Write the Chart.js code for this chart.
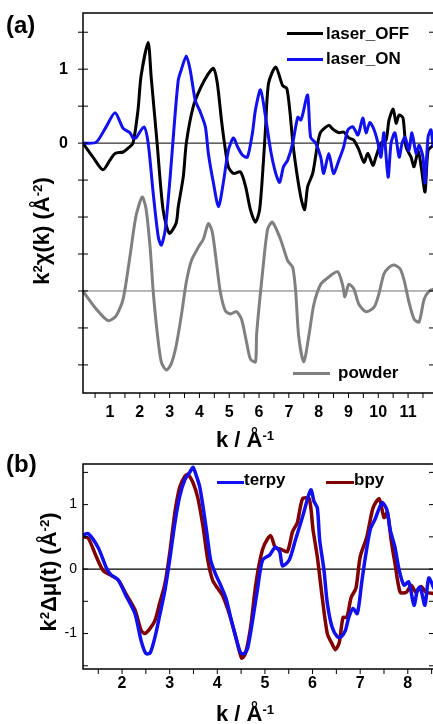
<!DOCTYPE html>
<html>
<head>
<meta charset="utf-8">
<script src="https://cdn.jsdelivr.net/npm/chart.js@4.4.1/dist/chart.umd.min.js"></script>
<style>
  html, body { margin:0; padding:0; background:#fff; }
  body { width:433px; height:724px; overflow:hidden; position:relative;
         font-family:"Liberation Sans", Arial, sans-serif; font-weight:bold; color:#000; }
  canvas { position:absolute; left:0; }
  #chartA { top:0; }
  #chartB { top:450px; }
  .txt { position:absolute; white-space:nowrap; line-height:1; }
  .sw { position:absolute; height:3px; }
  .ytitle { position:absolute; white-space:nowrap; font-size:22px; line-height:1;
            transform:translate(-50%,-50%) rotate(-90deg); }
  sup { font-size:0.6em; line-height:0; vertical-align:0.55em; }
</style>
</head>
<body>
<canvas id="chartA" width="440" height="450"></canvas>
<canvas id="chartB" width="440" height="274"></canvas>

<div class="txt" style="left:6px;top:13px;font-size:24px">(a)</div>
<div class="txt" style="left:6px;top:452px;font-size:24px">(b)</div>

<div class="sw" style="left:287px;top:32px;width:36px;background:#000"></div>
<div class="txt" style="left:326px;top:25px;font-size:17px">laser_OFF</div>
<div class="sw" style="left:287px;top:58px;width:36px;background:#1010f0"></div>
<div class="txt" style="left:326px;top:50px;font-size:17px">laser_ON</div>
<div class="sw" style="left:293px;top:372px;width:37px;background:#808080"></div>
<div class="txt" style="left:338px;top:364px;font-size:17px">powder</div>

<div class="sw" style="left:217px;top:481px;width:27px;background:#1010f0"></div>
<div class="txt" style="left:244px;top:471px;font-size:17px">terpy</div>
<div class="sw" style="left:326px;top:481px;width:28px;background:#800000"></div>
<div class="txt" style="left:354px;top:471px;font-size:17px">bpy</div>

<div class="txt" style="left:216px;top:429px;font-size:22px">k / Å<sup>-1</sup></div>
<div class="txt" style="left:216px;top:703px;font-size:22px">k / Å<sup>-1</sup></div>
<div class="ytitle" style="left:42px;top:231px">k<sup>2</sup>χ(k) (Å<sup>-2</sup>)</div>
<div class="ytitle" style="left:49px;top:572px">k<sup>2</sup>Δμ(t) (Å<sup>-2</sup>)</div>

<script>
const $ = (id) => document.getElementById(id);

// ---- panel (a): k^2 chi(k) ----
const offK = [0.09,0.43,0.76,1.0,1.17,1.44,1.6,1.77,1.94,2.04,2.28,2.38,2.48,2.58,2.78,2.99,3.22,3.29,3.46,3.56,3.79,4.03,4.27,4.47,4.6,4.74,4.84,4.97,5.14,5.38,5.55,5.71,5.88,6.02,6.15,6.22,6.32,6.56,6.79,6.93,7.03,7.16,7.4,7.53,7.63,7.8,7.97,8.07,8.34,8.5,8.68,8.84,9.01,9.18,9.35,9.52,9.65,9.82,9.92,10.09,10.26,10.36,10.5,10.6,10.7,10.83,10.93,11.1,11.2,11.34,11.44,11.57,11.67,11.84,11.9];
const offVal = [0,-0.19,-0.36,-0.23,-0.14,-0.12,-0.07,0,0.45,0.9,1.36,0.9,0.45,0,-0.9,-1.22,-1.08,-0.86,-0.45,0,0.49,0.74,0.92,1.01,0.81,0.31,0,-0.32,-0.41,-0.39,-0.59,-0.9,-1.07,-0.9,-0.23,0.22,0.81,1.03,0.78,0.74,0.45,-0.09,-0.73,-0.9,-0.59,-0.41,0,0.15,0.24,0.18,0.14,0.15,0.07,0.04,-0.09,-0.26,-0.14,-0.3,-0.19,0,0.04,0.31,0.46,0.27,0.38,0.34,-0.05,-0.19,-0.32,-0.1,-0.32,-0.66,-0.1,-0.03,0];

const onK = [0.09,0.53,0.87,1.17,1.44,1.67,1.77,1.87,2.14,2.28,2.45,2.62,2.72,2.85,3.02,3.15,3.29,3.39,3.56,3.69,3.86,4.03,4.2,4.3,4.47,4.64,4.8,4.97,5.14,5.28,5.44,5.61,5.78,5.88,6.05,6.22,6.39,6.56,6.69,6.82,6.96,7.13,7.3,7.4,7.46,7.63,7.73,7.9,8.07,8.17,8.34,8.5,8.68,8.84,8.98,9.15,9.32,9.48,9.59,9.72,9.86,9.99,10.09,10.19,10.33,10.43,10.56,10.7,10.8,10.9,11.03,11.13,11.27,11.37,11.5,11.57,11.67,11.77,11.84,11.9];
const onVal = [0,0.01,0.22,0.41,0.2,0.14,0.07,0.07,0.22,0,-0.68,-1.27,-1.38,-1.18,-0.45,0.22,0.85,0.99,1.18,0.99,0.58,0.42,0.22,-0.14,-0.54,-0.86,-0.54,-0.1,0.07,-0.05,-0.16,-0.19,0.14,0.45,0.72,0.35,-0.1,-0.41,-0.53,-0.32,-0.23,0,0.35,0.31,0.38,0.65,0.08,0,-0.19,-0.41,-0.14,-0.41,-0.23,-0.05,0.18,0.22,0.11,0.34,0.14,0.28,0.18,0,-0.19,0.14,-0.46,0,0.14,-0.19,0,0.08,-0.1,0.14,-0.14,-0.03,-0.19,-0.54,0.08,0.18,-0.03,0];

const powK = [0.09,0.53,0.93,1.2,1.44,1.67,1.87,2.08,2.21,2.35,2.45,2.58,2.72,2.89,3.05,3.22,3.39,3.56,3.73,3.96,4.13,4.3,4.43,4.57,4.7,4.87,5.04,5.24,5.41,5.58,5.71,5.88,5.92,6.12,6.29,6.45,6.72,6.96,7.13,7.23,7.33,7.5,7.67,7.84,8.07,8.31,8.64,8.81,8.88,9.01,9.18,9.35,9.59,9.86,10.02,10.19,10.36,10.53,10.73,10.87,11.03,11.2,11.37,11.54,11.71,11.88];
const powVal = [0,-0.24,-0.4,-0.34,-0.11,0.47,1.01,1.27,1.11,0.57,-0.01,-0.55,-0.96,-1.07,-0.99,-0.74,-0.34,0.12,0.41,0.59,0.7,0.91,0.8,0.39,-0.01,-0.27,-0.31,-0.28,-0.38,-0.69,-0.92,-0.96,-0.58,0.26,0.84,0.93,0.7,0.41,0.32,-0.01,-0.61,-0.96,-0.61,-0.18,0.09,0.18,0.26,0.07,-0.08,0.09,0.03,-0.18,-0.28,-0.22,-0.04,0.23,0.32,0.35,0.3,0.14,-0.15,-0.38,-0.42,-0.11,0,0.03];
const POWDER_SHIFT = -2;   // powder trace is stacked below the others

const aTickX = [0.5,1,1.5,2,2.5,3,3.5,4,4.5,5,5.5,6,6.5,7,7.5,8,8.5,9,9.5,10,10.5,11,11.5];
const aLabelX = [1,2,3,4,5,6,7,8,9,10,11];
const aTickY = [-3,-2.5,-2,-1.5,-1,-0.5,0,0.5,1,1.5];
const aLabelY = [0,1];

// ---- panel (b): k^2 delta-mu(t) ----
const terpyK = [1.18,1.29,1.5,1.67,1.77,1.92,2.08,2.27,2.4,2.5,2.59,2.69,2.79,2.9,3.0,3.11,3.21,3.32,3.42,3.49,3.55,3.63,3.7,3.78,3.86,3.97,4.07,4.18,4.28,4.39,4.49,4.57,4.64,4.74,4.85,4.95,5.1,5.22,5.31,5.37,5.51,5.64,5.79,5.91,5.97,6.03,6.1,6.15,6.24,6.31,6.41,6.52,6.6,6.69,6.76,6.85,6.94,7.03,7.1,7.21,7.31,7.46,7.56,7.63,7.73,7.82,7.92,8.02,8.13,8.2,8.26,8.36,8.44,8.55];
const terpyVal = [0.53,0.55,0.33,0.02,-0.09,-0.17,-0.41,-0.69,-1.11,-1.31,-1.3,-1.06,-0.72,-0.33,0.14,0.72,1.13,1.39,1.5,1.58,1.47,1.28,0.97,0.56,0.14,-0.09,-0.25,-0.45,-0.75,-1.06,-1.3,-1.31,-1.22,-0.8,-0.28,0.14,0.22,0.34,0.27,0.05,0.14,0.45,0.81,1.13,1.23,1.05,0.95,0.45,-0.02,-0.53,-0.9,-1.05,-1.05,-0.95,-0.75,-0.61,-0.69,-0.22,0.14,0.61,0.77,1.03,0.92,0.61,0.34,-0.02,-0.25,-0.2,-0.56,-0.33,-0.28,-0.56,-0.14,-0.3];

const bpyK = [1.18,1.29,1.46,1.6,1.75,1.92,2.08,2.27,2.4,2.48,2.59,2.69,2.79,2.9,3.0,3.11,3.21,3.32,3.38,3.49,3.59,3.7,3.8,3.9,4.01,4.11,4.25,4.39,4.51,4.59,4.7,4.8,4.91,4.99,5.12,5.22,5.33,5.47,5.58,5.68,5.79,5.93,6.01,6.1,6.21,6.31,6.41,6.48,6.56,6.64,6.72,6.81,6.91,7.0,7.14,7.27,7.4,7.5,7.57,7.65,7.73,7.84,7.97,8.07,8.17,8.28,8.38,8.55];
const bpyVal = [0.5,0.48,0.19,-0.02,-0.09,-0.17,-0.38,-0.63,-0.95,-1.0,-0.92,-0.8,-0.53,-0.23,0.24,0.88,1.27,1.44,1.47,1.34,1.11,0.66,0.14,-0.17,-0.3,-0.41,-0.69,-1.06,-1.38,-1.31,-0.9,-0.28,0.19,0.38,0.52,0.33,0.31,0.27,0.58,0.72,1.09,1.09,0.61,0.19,-0.48,-1.0,-1.16,-1.25,-1.14,-0.75,-0.75,-0.44,-0.3,0.19,0.5,0.95,1.09,0.8,0.88,0.45,0.09,-0.36,-0.36,-0.25,-0.36,-0.27,-0.36,-0.38];

const bTickX = [1.5,2,2.5,3,3.5,4,4.5,5,5.5,6,6.5,7,7.5,8,8.5];
const bLabelX = [2,3,4,5,6,7,8];
const bTickY = [-1.5,-1,-0.5,0,0.5,1,1.5];
const bLabelY = [-1,0,1];

Chart.defaults.font.family = '"Liberation Sans", Arial, sans-serif';
Chart.defaults.color = '#000';

const pts = (ks, vs, shift = 0) => ks.map((k, i) => ({ x: k, y: vs[i] + shift }));

// box frame, tick marks and horizontal reference lines
const framePlugin = {
  id: 'frame',
  beforeDatasetsDraw(chart, args, o) {
    const { ctx, chartArea: a, scales: { y } } = chart;
    ctx.save();
    o.baselines.forEach(b => {
      const py = y.getPixelForValue(b.value);
      ctx.strokeStyle = b.color;
      ctx.lineWidth = b.width;
      ctx.beginPath();
      ctx.moveTo(a.left, py);
      ctx.lineTo(a.right, py);
      ctx.stroke();
    });
    ctx.restore();
  },
  afterDatasetsDraw(chart, args, o) {
    const { ctx, chartArea: a, scales: { x, y } } = chart;
    ctx.save();
    ctx.strokeStyle = '#000';
    ctx.lineWidth = o.lineWidth;
    ctx.strokeRect(a.left, a.top, a.right - a.left, a.bottom - a.top);
    ctx.lineWidth = 1;
    ctx.beginPath();
    x.ticks.forEach(t => {
      const px = x.getPixelForValue(t.value);
      ctx.moveTo(px, a.bottom);
      ctx.lineTo(px, a.bottom + o.xOut);
    });
    y.ticks.forEach(t => {
      const py = y.getPixelForValue(t.value);
      ctx.moveTo(a.left - o.yOut, py);
      ctx.lineTo(a.left + o.yIn, py);
      ctx.moveTo(a.right - o.rIn, py);
      ctx.lineTo(a.right, py);
    });
    ctx.stroke();
    ctx.restore();
  }
};

function panelOptions(c) {
  return {
    responsive: false,
    animation: false,
    layout: { padding: { top: c.top, right: 6, left: 0, bottom: 0 } },
    elements: {
      point: { radius: 0 },
      line: { tension: 0.25, borderCapStyle: 'round', borderJoinStyle: 'round' }
    },
    plugins: {
      legend: { display: false },
      tooltip: { enabled: false },
      frame: c.frame
    },
    scales: {
      x: {
        type: 'linear', min: c.xMin, max: c.xMax,
        grid: { display: false, drawTicks: false },
        border: { display: false },
        afterBuildTicks: s => { s.ticks = c.tickX.map(v => ({ value: v })); },
        afterFit: s => { s.height = c.xHeight; s.paddingLeft = 0; s.paddingRight = 0; },
        ticks: {
          autoSkip: false, maxRotation: 0, padding: c.xPad,
          font: { size: 16, weight: 'bold' },
          callback: v => c.labelX.includes(v) ? String(v) : ''
        }
      },
      y: {
        type: 'linear', min: c.yMin, max: c.yMax,
        grid: { display: false, drawTicks: false },
        border: { display: false },
        afterBuildTicks: s => { s.ticks = c.tickY.map(v => ({ value: v })); },
        afterFit: s => { s.width = 83; s.paddingTop = 0; s.paddingBottom = 0; },
        ticks: {
          autoSkip: false, padding: c.yPad,
          font: c.yFont,
          callback: v => c.labelY.includes(v) ? String(v) : ''
        }
      }
    }
  };
}

new Chart($('chartA'), {
  type: 'line',
  data: {
    datasets: [
      { label: 'laser_ON', data: pts(onK, onVal), borderColor: '#1010f0', borderWidth: 3 },
      { label: 'laser_OFF', data: pts(offK, offVal), borderColor: '#000000', borderWidth: 3 },
      { label: 'powder', data: pts(powK, powVal, POWDER_SHIFT), borderColor: '#808080', borderWidth: 3 }
    ]
  },
  options: panelOptions({
    top: 13, xHeight: 57, xPad: 10, yPad: 15,
    xMin: 0.094, xMax: 11.87, yMin: -3.38, yMax: 1.76,
    tickX: aTickX, labelX: aLabelX, tickY: aTickY, labelY: aLabelY,
    yFont: { size: 16, weight: 'bold' },
    frame: {
      lineWidth: 1.5, xOut: 5, yOut: 5, yIn: 5, rIn: 5,
      baselines: [
        { value: 0, color: '#000', width: 1 },
        { value: POWDER_SHIFT, color: '#707070', width: 1 }
      ]
    }
  }),
  plugins: [framePlugin]
});

new Chart($('chartB'), {
  type: 'line',
  data: {
    datasets: [
      { label: 'terpy', data: pts(terpyK, terpyVal), borderColor: '#1010f0', borderWidth: 3.5 },
      { label: 'bpy', data: pts(bpyK, bpyVal), borderColor: '#800000', borderWidth: 3.5 }
    ]
  },
  options: panelOptions({
    top: 14, xHeight: 55, xPad: 5, yPad: 6,
    xMin: 1.18, xMax: 8.55, yMin: -1.55, yMax: 1.63,
    tickX: bTickX, labelX: bLabelX, tickY: bTickY, labelY: bLabelY,
    yFont: { size: 14, weight: 'normal' },
    frame: {
      lineWidth: 1.5, xOut: 5, yOut: 0, yIn: 5, rIn: 5,
      baselines: [ { value: 0, color: '#000', width: 1.2 } ]
    }
  }),
  plugins: [framePlugin]
});
</script>
</body>
</html>
